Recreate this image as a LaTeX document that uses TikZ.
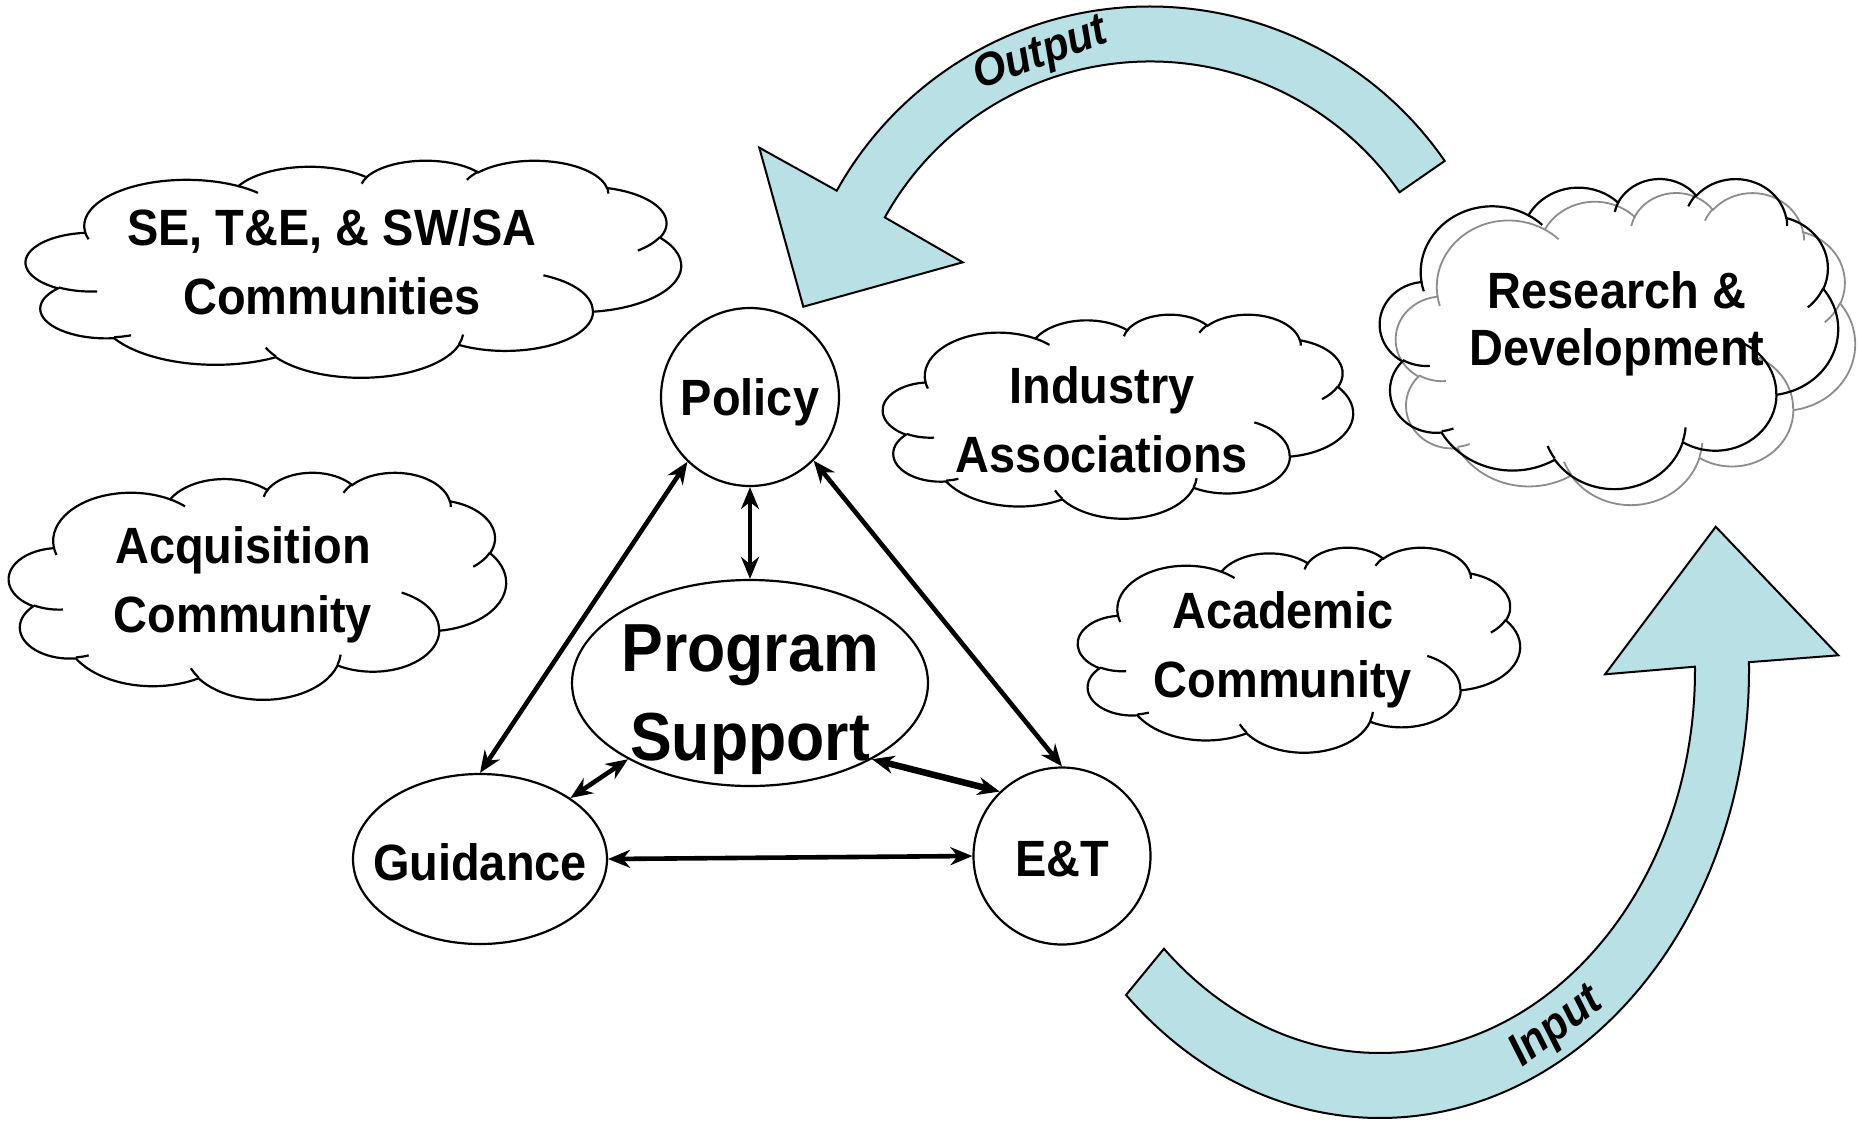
\documentclass[tikz,border=0pt]{standalone}
\usepackage{fontspec}
\setmainfont{Liberation Sans}[FakeStretch=0.92]
\usetikzlibrary{arrows.meta,shapes.geometric}
\definecolor{arrowfill}{RGB}{185,224,228}
\definecolor{cloudgray}{RGB}{140,140,140}

% one DrawingML arcTo (visual angles, path space y down)
\newcommand\pptarc[4]{%
  \pgfmathsetmacro\pptA{atan2((#1)*sin(#3),(#2)*cos(#3))}%
  \pgfmathsetmacro\pptTh{(#3)+(#4)}%
  \pgfmathsetmacro\pptB{atan2((#1)*sin(\pptTh),(#2)*cos(\pptTh))}%
  \pgfmathsetmacro\pptD{\pptB-\pptA-(#4)}%
  \pgfmathsetmacro\pptD{\pptD-360*round(\pptD/360)}%
  \pgfmathsetmacro\pptB{\pptA+(#4)+\pptD}%
  \pgfpatharc{\pptA}{\pptB}{#1pt and #2pt}%
}
\newcommand\pptcloudouter{%
 \pgfpathmoveto{\pgfpoint{9.028pt}{33.264pt}}%
 \pptarc{15.632}{21.273}{-190.4875}{123.7805}%
 \pptarc{12.345}{16.822}{-144.1024}{89.9452}%
 \pptarc{10.104}{13.762}{-145.8079}{99.7230}%
 \pptarc{11.243}{15.266}{-130.9861}{117.2417}%
 \pptarc{12.345}{16.836}{-78.7089}{109.0269}%
 \pptarc{15.683}{21.343}{-46.2673}{130.2690}%
 \pptarc{13.391}{18.211}{0.6250}{114.0333}%
 \pptarc{15.630}{21.331}{22.4516}{115.1726}%
 \pptarc{17.870}{24.405}{66.2426}{75.7110}%
 \pptarc{10.093}{13.699}{-274.9421}{146.7356}%
 \pptarc{10.058}{13.762}{-246.8285}{152.5189}%
 \pgfpathclose}
\newcommand\pptcloudhooks{%
 \pgfpathmoveto{\pgfpoint{10.863pt}{60.595pt}}\pptarc{10.058}{13.762}{86.742}{26.4295}%
 \pgfpathmoveto{\pgfpoint{16.037pt}{80.785pt}}\pptarc{10.093}{13.699}{73.6105}{11.4475}%
 \pgfpathmoveto{\pgfpoint{38.144pt}{90.486pt}}\pptarc{15.630}{21.331}{137.6242}{14.0811}%
 \pgfpathmoveto{\pgfpoint{66.729pt}{80.442pt}}\pptarc{15.630}{21.331}{6.4533}{15.9984}%
 \pgfpathmoveto{\pgfpoint{79.002pt}{53.134pt}}\pptarc{13.391}{18.211}{-70.2924}{70.9174}%
 \pgfpathmoveto{\pgfpoint{96.755pt}{35.542pt}}\pptarc{12.345}{16.836}{30.3180}{27.7515}%
 \pgfpathmoveto{\pgfpoint{88.713pt}{12.560pt}}\pptarc{11.243}{15.266}{-13.7443}{14.8589}%
 \pgfpathmoveto{\pgfpoint{67.310pt}{9.148pt}}\pptarc{11.243}{15.266}{-149.1815}{18.1954}%
 \pgfpathmoveto{\pgfpoint{51.252pt}{10.926pt}}\pptarc{10.104}{13.762}{-163.4943}{17.6864}%
 \pgfpathmoveto{\pgfpoint{32.407pt}{12.019pt}}\pptarc{15.632}{21.273}{-66.7070}{12.3194}%
 \pgfpathmoveto{\pgfpoint{9.553pt}{36.549pt}}\pptarc{15.632}{21.273}{157.6544}{11.8582}%
}
% #1,#2 top-left corner, #3 width, #4 height, #5 colour, #6 line width, #7 fill? (1/0)
\newcommand\pptcloud[7]{%
 \begin{scope}[shift={(#1,#2)},xscale=#3/100,yscale=-#4/100]
  \pgfsetlinewidth{#6}\pgfsetstrokecolor{#5}\pgfsetfillcolor{white}%
  \pptcloudouter
  \ifnum#7=1 \pgfusepath{fill,stroke}\else\pgfusepath{stroke}\fi
  \pptcloudhooks\pgfusepath{stroke}%
 \end{scope}}

\begin{document}
\begin{tikzpicture}[x=1pt,y=-1pt,
  shapenode/.style={draw, line width=2.2pt, fill=white, inner sep=0pt},
  nodetext/.style={inner sep=0pt, font=\bfseries\fontsize{51}{60}\selectfont},
  biarrow/.style={<->, line width=4.6pt, >={Stealth[length=22pt,width=18pt]}},
  bigarrow/.style={fill=arrowfill, draw=black, line width=2pt, line join=miter},
  cloudtext/.style={align=center, inner sep=0pt,
    font=\bfseries\fontsize{51}{69}\selectfont},
  bandlabel/.style={inner sep=0pt, font=\bfseries\itshape\fontsize{46}{46}\selectfont}]
\useasboundingbox (0,0) rectangle (1858,1120);
\fill[white] (0,0) rectangle (1858,1120);

% Output arrow
\filldraw[bigarrow] ([shift={(1150,365)}]-34.7:358.5)
  arc[start angle=-34.7, end angle=-150.9, radius=358.5]
  -- (759.3,147.7) -- (803.3,306.7) -- (962.7,262.3)
  -- ([shift={(1150,365)}]-150.9:303.5)
  arc[start angle=-150.9, end angle=-34.7, radius=303.5] -- cycle;
% Input arrow
\filldraw[bigarrow] ([shift={(1380,670)}]133.5:369 and 448)
  arc[start angle=133.5, end angle=-1, x radius=369, y radius=448]
  -- (1838.3,655.3) -- (1715.7,526.7) -- (1605,674.3)
  -- ([shift={(1380,670)}]-0.5:315 and 383)
  arc[start angle=-0.5, end angle=133.3, x radius=315, y radius=383] -- cycle;

\node[bandlabel, rotate=20] (outlbl) at (1041,55) {Output};
\node[bandlabel, rotate=37] (inlbl) at (1557,1028) {Input};

% clouds
\pptcloud{26}{160}{655}{217}{black}{2.2pt}{1}
\pptcloud{9}{472}{497}{227}{black}{2.2pt}{1}
\pptcloud{883}{314}{470}{204}{black}{2.2pt}{1}
\pptcloud{1078}{547}{442}{205}{black}{2.2pt}{1}
\pptcloud{1396}{192}{459}{312}{cloudgray}{1.8pt}{1}
\pptcloud{1380}{178}{458}{310}{black}{2.2pt}{0}

\node[cloudtext] (tse) at (332,262) {SE, T\&E, \& SW/SA\\Communities};
\node[cloudtext] (tacq) at (243,585) {Acquisition\\Community};
\node[cloudtext] (tind) at (1102,420) {Industry\\Associations};
\node[cloudtext] (tacad) at (1283,650) {Academic\\Community};
\node[cloudtext, font=\bfseries\fontsize{51}{57}\selectfont] (trd) at (1617,324) {Research \&\\Development};

% central nodes
\node[shapenode, circle, minimum size=178pt] (policy) at (750,397) {};
\node[shapenode, ellipse, minimum width=356pt, minimum height=206pt] (ps) at (750,683) {};
\node[shapenode, ellipse, minimum width=254pt, minimum height=170pt] (guid) at (480,859) {};
\node[shapenode, circle, minimum size=177pt] (et) at (1062,856) {};

\node[nodetext] (tpolicy) at (750,402) {Policy};
\node[nodetext, align=center, font=\bfseries\fontsize{68}{89}\selectfont] (tps) at (750,700) {Program\\Support};
\node[nodetext] (tguid) at (480,862) {Guidance};
\node[nodetext] (tet) at (1062,859) {E\&T};

\draw[biarrow] (policy.226) -- (guid.north);
\draw[biarrow] (policy.-45) -- (et.north);
\draw[biarrow, line width=3.6pt] (policy.south) -- (ps.north);
\draw[biarrow] (ps.212) -- (guid.34);
\draw[biarrow, line width=6.5pt] (ps.-32) -- (et.134);
\draw[biarrow] (guid.east) -- (et.west);
\end{tikzpicture}
\end{document}
